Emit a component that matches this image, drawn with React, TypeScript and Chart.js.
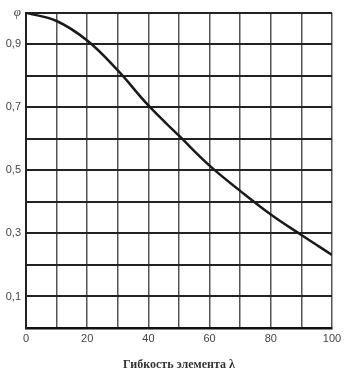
import React, { useEffect, useRef } from "react";
import { Chart, registerables } from "chart.js";

Chart.register(...registerables);

const lambdaValues = [0, 10, 20, 30, 40, 50, 60, 70, 80, 90, 100];
const phiValues = [1.0, 0.974, 0.912, 0.817, 0.706, 0.61, 0.515, 0.435, 0.36, 0.295, 0.232];
const yLabelValues = [1, 3, 5, 7, 9];
const xTitle = "Гибкость элемента λ";
const yTitle = "φ";

export default function App() {
  const ref = useRef<HTMLCanvasElement | null>(null);
  useEffect(() => {
    document.body.style.margin = "0";
    const ctx = ref.current!.getContext("2d")!;
    const chart = new Chart(ctx, {
      type: "line",
      data: {
        datasets: [
          {
            data: lambdaValues.map((x, i) => ({ x, y: phiValues[i] })),
            borderColor: "#1a1a1a",
            borderWidth: 2.5,
            pointRadius: 0,
            tension: 0.4,
            fill: false,
          },
        ],
      },
      options: {
        animation: false,
        responsive: false,
        maintainAspectRatio: false,
        layout: { padding: { top: 12, right: 20, left: 0, bottom: 0 } },
        plugins: { legend: { display: false }, tooltip: { enabled: false } },
        scales: {
          x: {
            type: "linear",
            min: 0,
            max: 100,
            ticks: {
              stepSize: 10,
              autoSkip: false,
              maxRotation: 0,
              padding: 4,
              color: "#444",
              font: { family: "Liberation Sans", size: 11 },
              callback: (v: any) => (Math.round(v) % 20 === 0 ? String(Math.round(v)) : ""),
            },
            grid: { color: "#555", lineWidth: 1.5, drawTicks: false },
            border: { color: "#111", width: 2.5 },
            title: {
              display: true,
              text: xTitle,
              color: "#333",
              font: { family: "Liberation Serif", size: 12, weight: "bold" },
              padding: { top: 2, bottom: 0 },
            },
            afterFit: (s: any) => {
              s.height = 44;
            },
          },
          y: {
            type: "linear",
            min: 0,
            max: 1,
            ticks: {
              stepSize: 0.1,
              autoSkip: false,
              padding: 5,
              color: "#444",
              font: (c: any) =>
                c.tick && Math.round(c.tick.value * 10) === 10
                  ? { family: "Liberation Serif", size: 13, style: "italic" }
                  : { family: "Liberation Sans", size: 11 },
              callback: (v: any) => {
                const k = Math.round(v * 10);
                if (k === 10) return yTitle;
                if (yLabelValues.includes(k)) return "0," + k;
                return "";
              },
            },
            grid: { color: "#222", lineWidth: 2, drawTicks: false },
            border: { color: "#222", width: 2 },
            afterFit: (s: any) => {
              s.width = 26;
            },
          },
        },
      },
    });
    return () => chart.destroy();
  }, []);
  return (
    <div style={{ position: "relative", width: 352, height: 372, background: "#fff" }}>
      <canvas ref={ref} width={352} height={372} />
    </div>
  );
}
